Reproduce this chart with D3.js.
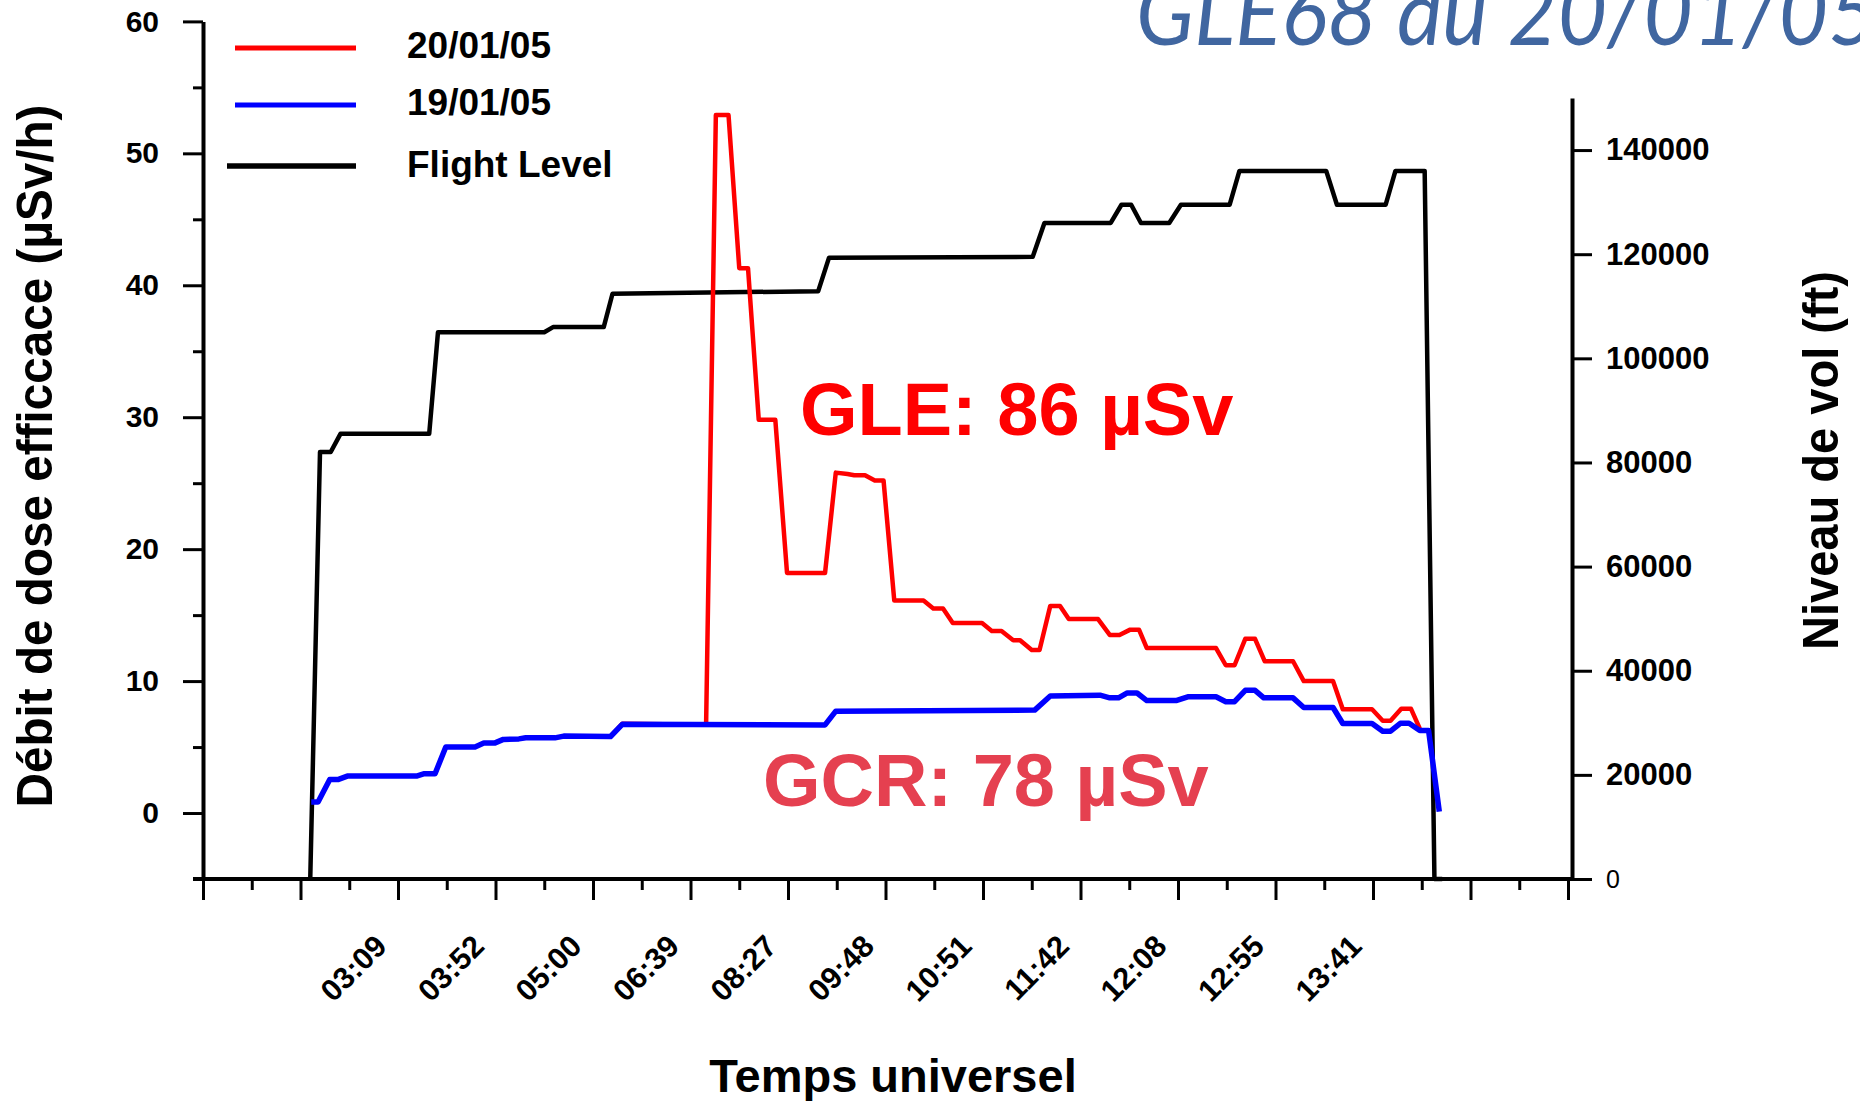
<!DOCTYPE html>
<html>
<head>
<meta charset="utf-8">
<title>GLE68 du 20/01/05</title>
<script src="https://cdn.jsdelivr.net/npm/d3@7"></script>
<style>
  html, body { margin: 0; padding: 0; background: #ffffff; }
  svg { display: block; }
</style>
</head>
<body>
<svg id="chart" width="1860" height="1101"></svg>
<script>
// ---- Data: sample index along the flight (10 samples per major tick) ----
const flightSample = [11.0, 12.0, 13.1, 14.1, 23.2, 24.1, 35.0, 35.9, 41.1, 42.0, 63.1, 64.2, 85.1, 86.3,
  93.1, 94.2, 95.2, 96.2, 99.1, 100.3, 105.3, 106.3, 115.2, 116.3, 121.3, 122.3, 125.3, 126.3, 127.1];
const flightLevel = [0, 82000, 82000, 85500, 85500, 105000, 105000, 106000, 106000, 112400, 112900, 119300, 119500, 126000,
  126000, 129500, 129500, 126000, 126000, 129500, 129500, 136000, 136000, 129500, 129500, 136000, 136000, 0, 0];

// 20/01/05 (GLE day) effective dose rate, µSv/h
const gleSample = [41.8, 43.0, 51.6, 52.6, 53.9, 55.0, 55.9, 57.0, 58.7, 59.9, 63.8, 64.9, 66.1, 66.8, 67.9, 68.9, 69.8,
  70.9, 73.9, 74.9, 75.9, 76.9, 79.9, 80.9, 81.9, 83.1, 83.8, 85.0, 85.8, 86.9, 87.9, 88.8, 91.8, 93.0, 94.0,
  95.1, 96.0, 96.8, 103.9, 104.9, 105.8, 106.9, 107.9, 108.9, 111.8, 112.9, 115.9, 116.9, 119.9, 121.0, 121.8,
  122.9, 123.9, 124.8];
const gleDose = [5.8, 6.76, 6.7, 52.9, 52.9, 41.3, 41.3, 29.8, 29.8, 18.2, 18.2, 25.8, 25.7, 25.6, 25.6, 25.2, 25.2,
  16.1, 16.1, 15.5, 15.5, 14.4, 14.4, 13.8, 13.8, 13.1, 13.1, 12.35, 12.35, 15.7, 15.7, 14.7, 14.7, 13.5, 13.5,
  13.9, 13.9, 12.5, 12.5, 11.2, 11.2, 13.2, 13.2, 11.5, 11.5, 10.0, 10.0, 7.86, 7.86, 7.0, 7.0,
  7.9, 7.9, 6.4];

// 19/01/05 (quiet day, galactic cosmic rays) effective dose rate, µSv/h
const gcrSample = [11.1, 11.8, 13.0, 13.9, 14.8, 21.9, 22.7, 23.8, 24.9, 27.9, 28.8, 29.9, 30.8, 32.4, 33.1, 36.1, 37.0,
  41.8, 43.0, 63.8, 64.9, 85.3, 86.9, 92.0, 93.0, 93.9, 94.8, 95.8, 96.8, 99.8, 101.0, 103.9, 104.9, 105.8,
  106.9, 107.9, 108.8, 111.8, 112.9, 115.9, 116.9, 119.9, 121.0, 121.8, 122.8, 123.7, 124.8, 125.7, 126.8];
const gcrDose = [0.83, 0.83, 2.55, 2.55, 2.8, 2.8, 2.98, 2.98, 5.0, 5.0, 5.3, 5.3, 5.58, 5.62, 5.7, 5.7, 5.83,
  5.8, 6.72, 6.68, 7.72, 7.8, 8.87, 8.93, 8.73, 8.73, 9.1, 9.1, 8.52, 8.52, 8.81, 8.81, 8.44, 8.44,
  9.3, 9.3, 8.73, 8.73, 8.0, 8.0, 6.79, 6.79, 6.2, 6.2, 6.8, 6.8, 6.26, 6.26, 0.1];

// ---- Axis ticks and labels ----
const timeMajorTicks = d3.range(0, 141, 10);
const timeMinorTicks = d3.range(5, 140, 10);
const timeLabelSamples = [20, 30, 40, 50, 60, 70, 80, 90, 100, 110, 120];
const timeLabels = ["03:09", "03:52", "05:00", "06:39", "08:27", "09:48", "10:51", "11:42", "12:08", "12:55", "13:41"];
const doseTicks = [0, 10, 20, 30, 40, 50, 60];
const doseMinorTicks = [-5, 5, 15, 25, 35, 45, 55];
const levelTicks = [0, 20000, 40000, 60000, 80000, 100000, 120000, 140000];

const legendLabels = ["20/01/05", "19/01/05", "Flight Level"];
const legendColors = ["#ff0000", "#0000ff", "#000000"];

const titleText = "GLE68 du 20/01/05";
const gleNote = "GLE: 86 µSv";
const gcrNote = "GCR: 78 µSv";

// ---- Layout ----
const FONT = '"Liberation Sans", Arial, Helvetica, sans-serif';
const svg = d3.select("#chart");

const x = d3.scaleLinear().domain([0, 140]).range([203, 1568]);
const yDose = d3.scaleLinear().domain([-5, 60]).range([879, 21.4]);
const yLevel = d3.scaleLinear().domain([0, 150000]).range([879, 98]);

function styleAxis(g, fontSize) {
  g.selectAll(".tick line").attr("stroke", "#000").attr("stroke-width", 3);
  g.selectAll(".domain").attr("stroke", "#000").attr("stroke-width", 4);
  g.selectAll("text")
    .attr("fill", "#000")
    .style("font-family", FONT)
    .style("font-weight", "bold")
    .style("font-size", fontSize + "px");
}

// Left axis: dose rate
const gLeft = svg.append("g").attr("transform", "translate(203,0)");
gLeft.call(d3.axisLeft(yDose).tickValues(doseTicks).tickSize(20).tickPadding(24).tickSizeOuter(0));
styleAxis(gLeft, 30);
const gLeftMinor = svg.append("g").attr("transform", "translate(203,0)");
gLeftMinor.call(d3.axisLeft(yDose).tickValues(doseMinorTicks).tickSize(10).tickFormat("").tickSizeOuter(0));
gLeftMinor.select(".domain").remove();
styleAxis(gLeftMinor, 30);

// Right axis: flight level
const gRight = svg.append("g").attr("transform", "translate(1572,0)");
gRight.call(d3.axisRight(yLevel).tickValues(levelTicks).tickSize(20).tickPadding(14)
  .tickFormat(d3.format("d")).tickSizeOuter(0));
styleAxis(gRight, 31);
gRight.selectAll(".tick text")
  .filter(d => d === 0)
  .style("font-weight", "normal")
  .style("font-size", "25px");

// Bottom axis: universal time
const gBottom = svg.append("g").attr("transform", "translate(0,879)");
gBottom.call(d3.axisBottom(x).tickValues(timeMajorTicks).tickSize(21).tickSizeOuter(0)
  .tickFormat(d => {
    const i = timeLabelSamples.indexOf(d);
    return i >= 0 ? timeLabels[i] : "";
  }));
gBottom.select(".domain").remove();
styleAxis(gBottom, 30.5);
gBottom.selectAll(".tick text")
  .attr("x", 0).attr("y", 0).attr("dy", null)
  .attr("transform", "translate(-10,69) rotate(-45)")
  .style("text-anchor", "end");
const gBottomMinor = svg.append("g").attr("transform", "translate(0,879)");
gBottomMinor.call(d3.axisBottom(x).tickValues(timeMinorTicks).tickSize(11).tickFormat("").tickSizeOuter(0));
gBottomMinor.select(".domain").remove();
styleAxis(gBottomMinor, 30);

// Base line of the plot frame
svg.append("line")
  .attr("x1", 193).attr("x2", 1574)
  .attr("y1", yDose(-5)).attr("y2", yDose(-5))
  .attr("stroke", "#000").attr("stroke-width", 4);

// ---- Series ----
const zip = (a, b) => a.map((v, i) => [v, b[i]]);
const levelLine = d3.line().x(d => x(d[0])).y(d => yLevel(d[1]));
const doseLine = d3.line().x(d => x(d[0])).y(d => yDose(d[1]));

svg.append("path")
  .datum(zip(flightSample, flightLevel))
  .attr("d", levelLine)
  .attr("fill", "none").attr("stroke", "#000").attr("stroke-width", 4.5)
  .attr("stroke-linejoin", "round");

svg.append("path")
  .datum(zip(gleSample, gleDose))
  .attr("d", doseLine)
  .attr("fill", "none").attr("stroke", "#ff0000").attr("stroke-width", 4.5)
  .attr("stroke-linejoin", "round");

svg.append("path")
  .datum(zip(gcrSample, gcrDose))
  .attr("d", doseLine)
  .attr("fill", "none").attr("stroke", "#0000ff").attr("stroke-width", 5.5)
  .attr("stroke-linejoin", "round");

// ---- Legend ----
const legendLineY = [48, 105, 166];
const legendTextY = [58, 115, 177];
const legendX1 = [235, 235, 227];
const legend = svg.append("g");
legendLabels.forEach((label, i) => {
  legend.append("line")
    .attr("x1", legendX1[i]).attr("x2", 356)
    .attr("y1", legendLineY[i]).attr("y2", legendLineY[i])
    .attr("stroke", legendColors[i]).attr("stroke-width", i === 2 ? 5.5 : 5);
  legend.append("text")
    .attr("x", 407).attr("y", legendTextY[i])
    .text(label)
    .style("font-family", FONT).style("font-weight", "bold").style("font-size", "37px")
    .attr("fill", "#000");
});

// ---- Axis titles ----
svg.append("text")
  .attr("transform", "translate(51.5,456) rotate(-90)")
  .attr("text-anchor", "middle")
  .attr("textLength", 703).attr("lengthAdjust", "spacingAndGlyphs")
  .style("font-family", FONT).style("font-weight", "bold").style("font-size", "50px")
  .text("Débit de dose efficcace (µSv/h)");

svg.append("text")
  .attr("transform", "translate(1837.5,460.5) rotate(-90)")
  .attr("text-anchor", "middle")
  .attr("textLength", 379).attr("lengthAdjust", "spacingAndGlyphs")
  .style("font-family", FONT).style("font-weight", "bold").style("font-size", "50px")
  .text("Niveau de vol (ft)");

svg.append("text")
  .attr("x", 893).attr("y", 1092)
  .attr("text-anchor", "middle")
  .style("font-family", FONT).style("font-weight", "bold").style("font-size", "47px")
  .text("Temps universel");

// ---- Dose annotations ----
svg.append("text")
  .attr("x", 800).attr("y", 435)
  .attr("fill", "#ff0000")
  .style("font-family", FONT).style("font-weight", "bold").style("font-size", "74px")
  .text(gleNote);

svg.append("text")
  .attr("x", 763).attr("y", 806)
  .attr("fill", "#e54050")
  .style("font-family", FONT).style("font-weight", "bold").style("font-size", "74px")
  .text(gcrNote);

// ---- Title (runs past the top and right edges of the page) ----
svg.append("text")
  .attr("x", 1136).attr("y", 45)
  .attr("fill", "#4066a0")
  .attr("textLength", 742).attr("lengthAdjust", "spacingAndGlyphs")
  .style("font-family", "Lato, 'Open Sans', sans-serif")
  .style("font-style", "italic")
  .style("font-size", "92px")
  .text(titleText);
</script>
</body>
</html>
